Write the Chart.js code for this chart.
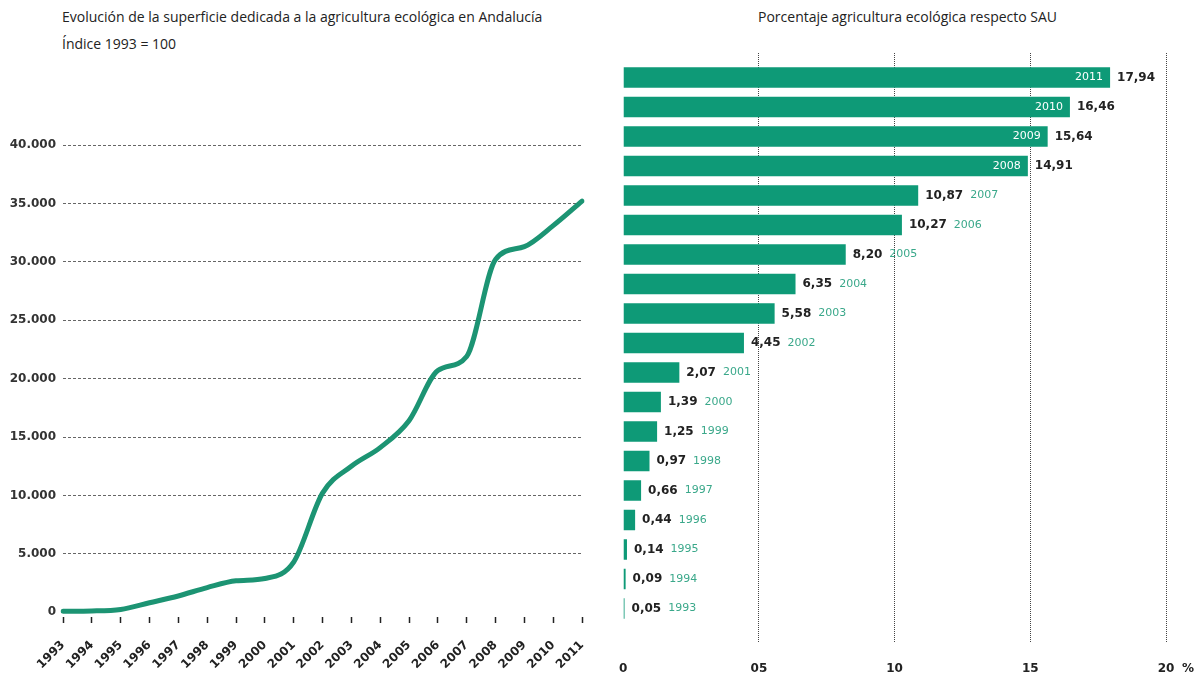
<!DOCTYPE html>
<html>
<head>
<meta charset="utf-8">
<script src="https://cdn.jsdelivr.net/npm/chart.js@4.4.1/dist/chart.umd.min.js"></script>
<style>
  body { margin: 0; background: #fff; width: 1197px; height: 677px; overflow: hidden; position: relative; font-family: "Open Sans", sans-serif; color: #222; }
  .title { position: absolute; font-size: 14px; white-space: nowrap; }
  #lineBox { position: absolute; left: 0; top: 0; width: 600px; height: 677px; }
  #barBox { position: absolute; left: 600px; top: 0; width: 597px; height: 677px; }
</style>
</head>
<body>
<div class="title" style="left:62px; top:7px;">Evolución de la superficie dedicada a la agricultura ecológica en Andalucía</div>
<div class="title" style="left:62px; top:34px;">Índice 1993 = 100</div>
<div class="title" style="left:758px; top:7px;">Porcentaje agricultura ecológica respecto SAU</div>
<div id="lineBox"><canvas id="lineChart"></canvas></div>
<div id="barBox"><canvas id="barChart"></canvas></div>
<script>
// left chart: index of organic surface (1993 = 100)
const years = ["1993", "1994", "1995", "1996", "1997", "1998", "1999", "2000", "2001", "2002",
  "2003", "2004", "2005", "2006", "2007", "2008", "2009", "2010", "2011"];
const indexValues = [100, 120, 250, 820, 1400, 2120, 2700, 2900, 4300, 10200,
  12500, 14100, 16400, 20700, 21900, 30200, 31300, 33100, 35200];
const indexTicks = [0, 5000, 10000, 15000, 20000, 25000, 30000, 35000, 40000];

// right chart: % of SAU
const barYears = [1993, 1994, 1995, 1996, 1997, 1998, 1999, 2000, 2001, 2002,
  2003, 2004, 2005, 2006, 2007, 2008, 2009, 2010, 2011];
const sauPercent = [0.05, 0.09, 0.14, 0.44, 0.66, 0.97, 1.25, 1.39, 2.07, 4.45,
  5.58, 6.35, 8.20, 10.27, 10.87, 14.91, 15.64, 16.46, 17.94];
const percentTicks = ["0", "05", "10", "15", "20"];

const green = "#0e9a77";
const numFont = "DejaVu Sans";

new Chart(document.getElementById("lineChart"), {
  type: "line",
  data: {
    labels: years,
    datasets: [{
      data: indexValues,
      borderColor: "#1c9473",
      borderWidth: 5,
      borderCapStyle: "round",
      pointRadius: 0,
      cubicInterpolationMode: "monotone",
      fill: false
    }]
  },
  options: {
    responsive: true,
    maintainAspectRatio: false,
    animation: false,
    layout: { padding: { top: 145, right: 18, left: 0, bottom: 0 } },
    plugins: { legend: { display: false }, tooltip: { enabled: false } },
    scales: {
      x: {
        offset: false,
        border: { display: false },
        grid: { drawOnChartArea: false, drawTicks: true, tickLength: 6, tickColor: "#222", tickWidth: 1.5 },
        ticks: {
          color: "#222",
          font: { family: numFont, size: 12, weight: "bold" },
          minRotation: 45,
          maxRotation: 45,
          padding: 15
        },
        afterFit: (s) => { s.height = 60; s.paddingLeft = 0; s.paddingRight = 0; }
      },
      y: {
        min: -400,
        max: 40000,
        border: { display: false, dash: [3, 2] },
        grid: {
          drawTicks: false,
          color: (ctx) => (ctx.tick && ctx.tick.value === 0 ? "rgba(0,0,0,0)" : "#666"),
          lineWidth: 1
        },
        ticks: {
          padding: 7,
          color: "#333",
          font: { family: numFont, size: 12, weight: "bold" },
          callback: (v) => v.toLocaleString("de-DE")
        },
        afterBuildTicks: (s) => { s.ticks = indexTicks.map((v) => ({ value: v })); },
        afterFit: (s) => { s.width = 63; }
      }
    }
  }
});

// labels next to / inside each bar
const barLabels = {
  id: "barLabels",
  afterDatasetsDraw(chart) {
    const ctx = chart.ctx;
    const meta = chart.getDatasetMeta(0);
    ctx.save();
    ctx.textBaseline = "middle";
    meta.data.forEach((bar, i) => {
      const val = sauPercent[i].toFixed(2).replace(".", ",");
      const yr = String(barYears[i]);
      ctx.font = "bold 12px " + numFont;
      ctx.textAlign = "left";
      ctx.fillStyle = "#222";
      ctx.fillText(val, bar.x + 7, bar.y);
      if (sauPercent[i] > 14) {
        ctx.font = "11px " + numFont;
        ctx.textAlign = "right";
        ctx.fillStyle = "#fff";
        ctx.fillText(yr, bar.x - 7, bar.y);
      } else {
        const w = ctx.measureText(val).width;
        ctx.font = "11px " + numFont;
        ctx.fillStyle = "#3aa88a";
        ctx.fillText(yr, bar.x + 7 + w + 7, bar.y);
      }
    });
    // % sign after the last tick label
    const xs = chart.scales.x;
    ctx.font = "bold 12px " + numFont;
    ctx.fillStyle = "#222";
    ctx.textAlign = "left";
    ctx.fillText("%", xs.getPixelForValue(20) + 16, xs.bottom - 8);
    ctx.restore();
  }
};

new Chart(document.getElementById("barChart"), {
  type: "bar",
  data: {
    datasets: [{
      data: barYears.map((y, i) => ({ x: sauPercent[i], y: y })),
      backgroundColor: green,
      barPercentage: 0.8,
      categoryPercentage: 0.875
    }]
  },
  options: {
    indexAxis: "y",
    responsive: true,
    maintainAspectRatio: false,
    animation: false,
    layout: { padding: { top: 53, right: 31, left: 21, bottom: 0 } },
    plugins: { legend: { display: false }, tooltip: { enabled: false } },
    scales: {
      x: {
        type: "linear",
        min: 0,
        max: 20,
        border: { display: false, dash: [1, 1] },
        grid: {
          drawTicks: false,
          color: (ctx) => (ctx.tick && ctx.tick.value === 0 ? "rgba(0,0,0,0)" : "#444"),
          lineWidth: 1
        },
        ticks: {
          stepSize: 5,
          padding: 19,
          color: "#222",
          font: { family: numFont, size: 12, weight: "bold" },
          callback: (v) => percentTicks[v / 5]
        },
        afterFit: (s) => { s.height = 34; }
      },
      y: {
        type: "linear",
        display: false,
        offset: false,
        min: 1991.83,
        max: 2011.83
      }
    }
  },
  plugins: [barLabels]
});
</script>
</body>
</html>
